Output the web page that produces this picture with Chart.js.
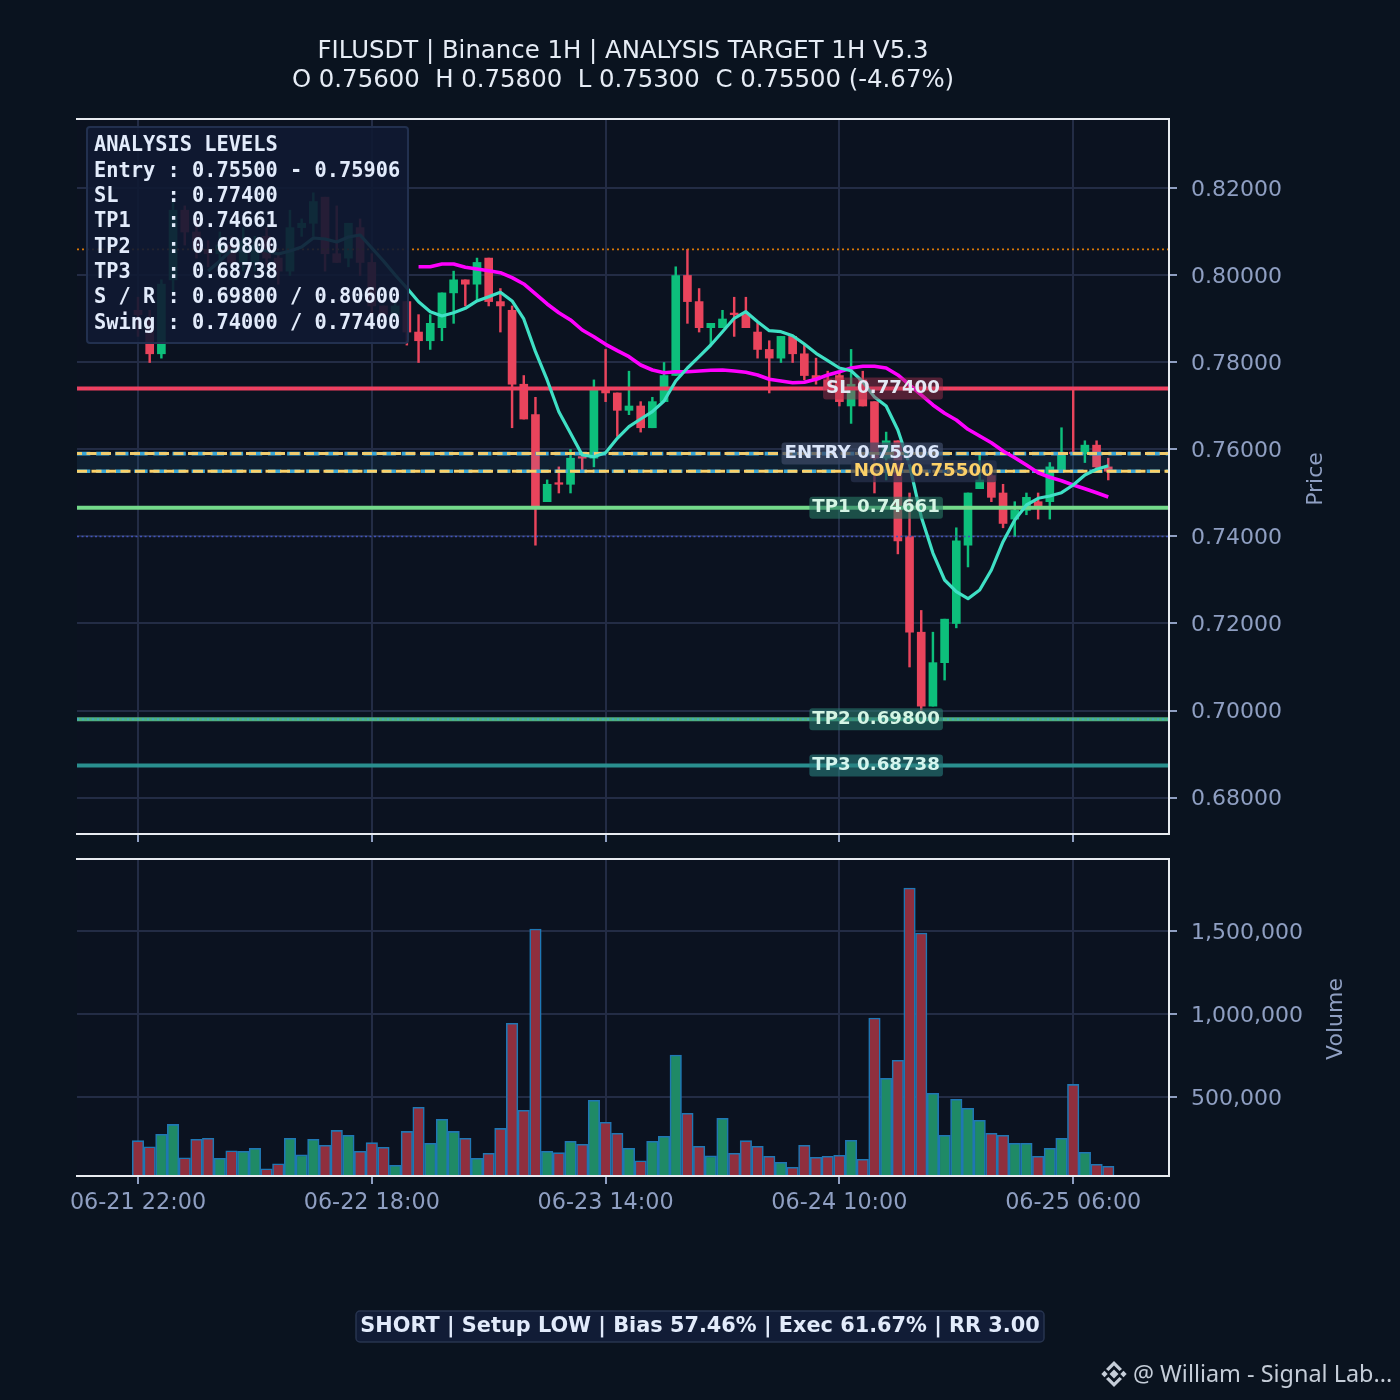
<!DOCTYPE html>
<html>
<head>
<meta charset="utf-8">
<title>FILUSDT</title>
<script src="https://cdn.jsdelivr.net/npm/chart.js@4"></script>
<style>
html,body{margin:0;padding:0;background:#0a131f;width:1400px;height:1400px;overflow:hidden}
canvas{position:absolute;left:0;top:0}
</style>
</head>
<body>
<canvas id="price" width="1400" height="1400"></canvas>
<canvas id="vol" width="1400" height="1400"></canvas>
<script>
const opens=[.792,.790,.782,.799,.815,.810,.806,.805,.807,.803,.803,.809,.804,.801,.811,.812,.818,.805,.804,.811,.803,.793,.791,.794,.787,.785,.788,.796,.799,.798,.804,.794,.792,.775,.768,.748,.752,.752,.758,.758,.774,.773,.769,.770,.765,.771,.777,.800,.794,.788,.788,.791,.791,.787,.783,.781,.786,.782,.777,.776,.777,.770,.776,.771,.758,.762,.740,.718,.701,.711,.720,.738,.751,.754,.750,.744,.746,.748,.748,.755,.759,.759,.761,.756];
const highs=[.795,.792,.799,.817,.816,.813,.808,.810,.809,.811,.809,.811,.805,.815,.813,.819,.818,.816,.812,.813,.805,.793,.794,.794,.791,.791,.796,.801,.799,.804,.804,.797,.793,.777,.772,.753,.756,.760,.758,.776,.783,.773,.778,.771,.772,.780,.802,.806,.797,.789,.792,.795,.795,.789,.785,.786,.786,.784,.781,.778,.778,.783,.778,.771,.764,.762,.750,.723,.718,.721,.742,.750,.759,.755,.752,.748,.750,.750,.757,.765,.774,.762,.762,.758];
const lows=[.786,.780,.781,.796,.807,.804,.802,.803,.802,.801,.801,.802,.798,.800,.809,.809,.801,.803,.802,.800,.790,.790,.790,.784,.780,.783,.785,.789,.793,.794,.793,.787,.765,.767,.738,.748,.750,.750,.755,.756,.771,.763,.768,.764,.765,.771,.777,.789,.787,.784,.788,.786,.788,.781,.773,.780,.780,.776,.775,.774,.770,.766,.770,.750,.753,.736,.710,.700,.701,.707,.719,.733,.751,.748,.742,.740,.745,.744,.744,.755,.759,.757,.755,.753];
const closes=[.791,.782,.798,.815,.810,.806,.805,.807,.803,.808,.807,.804,.801,.811,.812,.817,.805,.803,.812,.803,.793,.791,.793,.787,.785,.789,.796,.799,.798,.803,.794,.793,.775,.767,.747,.752,.752,.758,.758,.774,.773,.769,.770,.765,.771,.777,.800,.794,.788,.789,.790,.791,.788,.783,.781,.786,.782,.777,.776,.774,.771,.775,.770,.758,.762,.739,.718,.701,.711,.721,.739,.750,.753,.749,.743,.746,.749,.747,.756,.759,.759,.761,.756,.755];
const volumes=[237000,200000,275000,335000,134000,245000,251000,131000,176000,173000,191000,68000,98000,251000,151000,245000,209000,299000,269000,173000,225000,197000,89000,293000,438000,221000,366000,293000,251000,131000,161000,311000,944000,420000,1512000,173000,165000,233000,215000,480000,348000,281000,191000,116000,233000,263000,753000,402000,203000,145000,372000,161000,237000,203000,143000,107000,77000,209000,137000,143000,149000,239000,125000,976000,613000,721000,1759000,1488000,522000,269000,486000,432000,360000,281000,269000,221000,221000,143000,191000,251000,576000,167000,95000,83000];
const fastLine=[null,null,null,null,null,null,.80103,.80333,.80586,.80563,.80632,.80563,.80494,.80563,.80655,.80862,.80839,.8077,.80885,.80931,.80632,.80333,.80011,.79713,.79398,.79168,.79069,.79145,.79246,.79414,.79513,.79614,.79414,.79,.78248,.77598,.76869,.76372,.75873,.75834,.75926,.76257,.76524,.76701,.76869,.77115,.77575,.77873,.78133,.78402,.78708,.79016,.79168,.78938,.78731,.78708,.78616,.78425,.78211,.78041,.77873,.77811,.77559,.77207,.77,.76448,.75643,.74455,.7362,.73,.72731,.7257,.7277,.7323,.7388,.74379,.74724,.74878,.74931,.75007,.75184,.75414,.75545,.75627];
const slowLine=[null,null,null,null,null,null,null,null,null,null,null,null,null,null,null,null,null,null,null,null,null,null,null,null,.80202,.80202,.80264,.80264,.80188,.80149,.8011,.80064,.79949,.79805,.79575,.79345,.79145,.78977,.78747,.78593,.78418,.78271,.78133,.77942,.77827,.77765,.77788,.77788,.77804,.77821,.77827,.77804,.77775,.77713,.77614,.77575,.77536,.77545,.77614,.77713,.77788,.77873,.77912,.77912,.77873,.77713,.77483,.77253,.77023,.76832,.76678,.76464,.7631,.76156,.75965,.75811,.75643,.75466,.75361,.75282,.75184,.75099,.75007,.74908];
const xTickIndex=[0,20,40,60,80];
const xTickLabels=['06-21 22:00','06-22 18:00','06-23 14:00','06-24 10:00','06-25 06:00'];
const priceTicks=[.68,.70,.72,.74,.76,.78,.80,.82];
const volumeTicks=[500000,1000000,1500000];
const levelSL=.774, levelEntry=.75906, levelNow=.755, levelTP1=.74661, levelTP2=.698, levelTP3=.68738, levelRes=.806, levelSwingLow=.74;
const titleLines=['FILUSDT | Binance 1H | ANALYSIS TARGET 1H V5.3','O 0.75600  H 0.75800  L 0.75300  C 0.75500 (-4.67%)'];
const panelLines=['ANALYSIS LEVELS','Entry : 0.75500 - 0.75906','SL    : 0.77400','TP1   : 0.74661','TP2   : 0.69800','TP3   : 0.68738','S / R : 0.69800 / 0.80600','Swing : 0.74000 / 0.77400'];
const statusText='SHORT | Setup LOW | Bias 57.46% | Exec 61.67% | RR 3.00';
const watermarkText='@ William - Signal Lab...';

const SANS='"DejaVu Sans"', MONO='"DejaVu Sans Mono"';
const RED='#e9445c', GREEN='#0dbf7b', TICKC='#8f9fc2', GRID='#232c45', SPINE='#e8ebf0', FACE='#0b1220';
const XMIN=-5.218, XMAX=88.195;
const idx=opens.map((_,i)=>i);
const up=idx.map(i=>closes[i]>opens[i]);
const candleColors=up.map(u=>u?GREEN:RED);

function xAxis(height,showLabels){return {
  type:'linear',min:XMIN,max:XMAX,offset:false,
  afterBuildTicks(s){s.ticks=xTickIndex.map(v=>({value:v}));},
  afterFit(s){s.height=height;},
  grid:{offset:false,color:GRID,lineWidth:2,tickLength:8,tickColor:TICKC,tickWidth:2,drawTicks:true},
  border:{display:false},
  ticks:{display:showLabels,color:TICKC,font:{family:SANS,size:22.3},padding:6,maxRotation:0,autoSkip:false,
    callback(v){const k=xTickIndex.indexOf(v);return k>=0?xTickLabels[k]:'';}}
};}
function yAxis(min,max,vals,fmt){return {
  type:'linear',position:'right',min,max,
  afterBuildTicks(s){s.ticks=vals.map(v=>({value:v}));},
  afterFit(s){s.width=231;},
  grid:{color:GRID,lineWidth:2,tickLength:8,tickColor:TICKC,tickWidth:2},
  border:{display:false},
  ticks:{color:TICKC,font:{family:SANS,size:22},padding:14,labelOffset:2,autoSkip:false,callback:fmt}
};}
const facePlugin={id:'face',beforeDraw(c){const a=c.chartArea,g=c.ctx;g.save();g.fillStyle=FACE;g.fillRect(a.left,a.top,a.width,a.height);g.restore();}};
function spines(g,a){g.save();g.strokeStyle=SPINE;g.lineWidth=2;g.beginPath();g.moveTo(a.left-1,a.top);g.lineTo(a.right,a.top);g.lineTo(a.right,a.bottom);g.lineTo(a.left-1,a.bottom);g.stroke();g.restore();}
function sideTitle(g,text,x,y){g.save();g.translate(x,y);g.rotate(-Math.PI/2);g.font='22px '+SANS;g.fillStyle=TICKC;g.textAlign='center';g.textBaseline='middle';g.fillText(text,0,0);g.restore();}
function rr(g,x,y,w,h,r){g.beginPath();g.moveTo(x+r,y);g.arcTo(x+w,y,x+w,y+h,r);g.arcTo(x+w,y+h,x,y+h,r);g.arcTo(x,y+h,x,y,r);g.arcTo(x,y,x+w,y,r);g.closePath();}

const priceLabels=[
 {t:'SL 0.77400',v:levelSL,at:68.6,bg:'rgba(170,50,80,.45)',c:'#e4e8f4'},
 {t:'ENTRY 0.75906',v:levelEntry,at:68.6,bg:'rgba(60,72,100,.72)',c:'#dbe6fa'},
 {t:'NOW 0.75500',v:levelNow,at:73.2,bg:'rgba(40,50,78,.72)',c:'#fcd068'},
 {t:'TP1 0.74661',v:levelTP1,at:68.6,bg:'rgba(40,120,100,.6)',c:'#d5f5e5'},
 {t:'TP2 0.69800',v:levelTP2,at:68.6,bg:'rgba(40,120,110,.6)',c:'#d5f5e5'},
 {t:'TP3 0.68738',v:levelTP3,at:68.6,bg:'rgba(40,125,125,.6)',c:'#d5f5ee'}
];
const overlayPlugin={id:'overlay',afterDraw(c){
  const g=c.ctx,a=c.chartArea,sx=c.scales.x,sy=c.scales.y;
  spines(g,a);
  sideTitle(g,'Price',1316,479);
  g.save();
  g.font='bold 18.2px '+SANS;g.textBaseline='middle';g.textAlign='right';
  priceLabels.forEach(l=>{
    const x=sx.getPixelForValue(l.at),y=sy.getPixelForValue(l.v);
    const w=g.measureText(l.t).width;
    g.fillStyle=l.bg;rr(g,x-w-3,y-11,w+6,22,3);g.fill();
    g.fillStyle=l.c;g.fillText(l.t,x,y);
  });
  g.restore();
  g.save();
  rr(g,87,127,321,216,3);g.fillStyle='rgba(15,25,50,.9)';g.fill();g.lineWidth=2;g.strokeStyle='#22304f';g.stroke();
  g.font='bold 20.35px '+MONO;g.fillStyle='#e2ebfb';g.textAlign='left';g.textBaseline='middle';
  panelLines.forEach((t,i)=>g.fillText(t,94,146+i*25.35));
  g.restore();
}};
const volOverlay={id:'volOverlay',afterDraw(c){
  const g=c.ctx,a=c.chartArea;
  spines(g,a);
  sideTitle(g,'Volume',1336,1019);
  g.save();
  rr(g,356,1311,688,31,4);g.fillStyle='#111c36';g.fill();g.lineWidth=1.5;g.strokeStyle='#27344f';g.stroke();
  g.font='bold 20.83px '+SANS;g.fillStyle='#e2ebfb';g.textAlign='center';g.textBaseline='middle';
  g.fillText(statusText,700,1327);
  g.fillStyle='#c5cdd8';
  const cx=1114,cy=1374;
  [[0,0,4.5],[-9.5,0,3.2],[9.5,0,3.2]].forEach(d=>{g.beginPath();g.moveTo(cx+d[0]-d[2],cy+d[1]);g.lineTo(cx+d[0],cy+d[1]-d[2]);g.lineTo(cx+d[0]+d[2],cy+d[1]);g.lineTo(cx+d[0],cy+d[1]+d[2]);g.closePath();g.fill();});
  [-1,1].forEach(s=>{g.beginPath();g.moveTo(cx-8,cy+s*5);g.lineTo(cx,cy+s*13);g.lineTo(cx+8,cy+s*5);g.lineTo(cx+5.5,cy+s*3);g.lineTo(cx,cy+s*8.5);g.lineTo(cx-5.5,cy+s*3);g.closePath();g.fill();});
  g.font='23.4px "Noto Sans"';g.textAlign='left';g.fillText(watermarkText,1133,1375);
  g.restore();
}};
function levelLine(v,color,width,dash,order,extra){return Object.assign({type:'line',data:[{x:XMIN,y:v},{x:XMAX,y:v}],borderColor:color,borderWidth:width,borderDash:dash||[],pointRadius:0,order,tension:0},extra||{});}
function maLine(vals,color,width,order){return {type:'line',data:idx.map(i=>({x:i,y:vals[i]})),borderColor:color,borderWidth:width,pointRadius:0,order,tension:0,spanGaps:false,borderJoinStyle:'round'};}

new Chart(document.getElementById('price'),{
  data:{datasets:[
    {type:'bar',grouped:false,data:idx.map(i=>({x:i,y:[lows[i],highs[i]]})),backgroundColor:candleColors,barThickness:1.8,order:20},
    {type:'bar',grouped:false,data:idx.map(i=>({x:i,y:[opens[i],closes[i]]})),backgroundColor:candleColors,barThickness:8,minBarLength:1.6,order:19},
    levelLine(levelEntry,'rgba(0,0,0,0)',0,[],18,{fill:{target:{value:levelNow}},backgroundColor:'rgba(56,189,248,.085)'}),
    levelLine(levelRes,'#d97706',1.6,[2,3],17),
    levelLine(levelSwingLow,'#4152b8',1.6,[2,2.5],17),
    levelLine(levelEntry,'#3aa6d6',3.6,[13.3,5.8],16),
    levelLine(levelEntry,'#f0cc6e',3,[10,4.5],15,{borderDashOffset:5}),
    levelLine(levelNow,'#3aa6d6',3.6,[13.3,5.8],16),
    levelLine(levelNow,'#fcd068',3,[10,4.5],15),
    levelLine(levelSL,'#f43f5e',4,[],14),
    levelLine(levelSL,'#d9486e',2,[2,3],13),
    levelLine(levelTP1,'#74d98a',4,[],14),
    levelLine(levelTP2,'#4fae7e',4,[],14),
    levelLine(levelTP2,'#3fa7c0',2,[2,3],13),
    levelLine(levelTP3,'#2a8f8f',4,[],14),
    maLine(slowLine,'#ff00ff',3.6,11),
    maLine(fastLine,'#3fe0c5',3.2,10)
  ]},
  options:{
    responsive:false,animation:false,devicePixelRatio:1,
    layout:{padding:{left:77,right:0,top:0,bottom:0}},
    plugins:{legend:{display:false},tooltip:{enabled:false},
      title:{display:true,fullSize:false,text:titleLines,color:'#e6ecf5',font:{family:SANS,size:24.4,weight:'normal',lineHeight:1.19},padding:{top:37.5,bottom:23.4}}},
    scales:{x:xAxis(566,false),y:yAxis(.67161,.83598,priceTicks,v=>v.toFixed(5))}
  },
  plugins:[facePlugin,overlayPlugin]
});
new Chart(document.getElementById('vol'),{
  data:{datasets:[
    {type:'bar',grouped:false,data:idx.map(i=>({x:i,y:volumes[i]})),
     backgroundColor:up.map(u=>u?'#1f8a66':'#8f2f3e'),borderColor:'#1f77b4',borderWidth:1.6,borderSkipped:false,barThickness:11.5}
  ]},
  options:{
    responsive:false,animation:false,devicePixelRatio:1,
    layout:{padding:{left:77,right:0,top:859,bottom:0}},
    plugins:{legend:{display:false},tooltip:{enabled:false}},
    scales:{x:xAxis(224,true),y:yAxis(24096,1933700,volumeTicks,v=>v.toLocaleString('en-US'))}
  },
  plugins:[facePlugin,volOverlay]
});
</script>
</body>
</html>
